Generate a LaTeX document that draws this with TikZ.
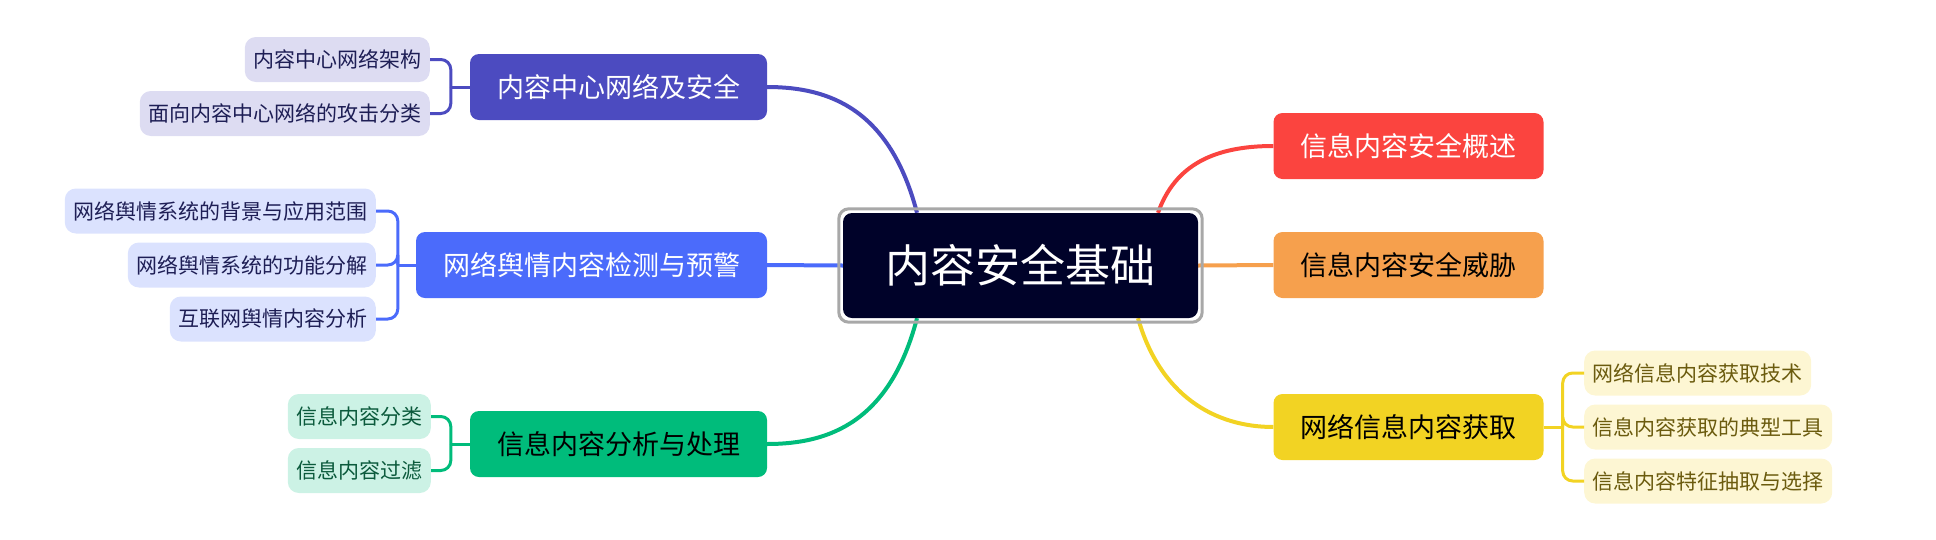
\documentclass[tikz,border=0pt]{standalone}
\usepackage{fontspec}
\newfontfamily\cjkfont{Noto Sans CJK SC}
\usetikzlibrary{backgrounds}

\definecolor{rootfill}{HTML}{000229}
\definecolor{rootline}{HTML}{A8A8A8}
\definecolor{purplemain}{HTML}{4C4BC0}
\definecolor{purplesub}{HTML}{DDDCF2}
\definecolor{bluemain}{HTML}{4B6BFB}
\definecolor{bluesub}{HTML}{DBE2FE}
\definecolor{greenmain}{HTML}{00BC7B}
\definecolor{greensub}{HTML}{CCF2E5}
\definecolor{greentext}{HTML}{0B5A3C}
\definecolor{redmain}{HTML}{FB443F}
\definecolor{orangemain}{HTML}{F6A04D}
\definecolor{yellowmain}{HTML}{F2D323}
\definecolor{yellowsub}{HTML}{FDF6D3}
\definecolor{yellowtext}{HTML}{6B5B0E}
\definecolor{navytext}{HTML}{1E1E55}

\tikzset{
  rootbox/.style={fill=rootfill, text=white, rounded corners=9pt, minimum height=105pt,
    inner xsep=42.5pt, font=\cjkfont\fontsize{45pt}{54pt}\selectfont},
  topic/.style={rounded corners=9pt, minimum height=66pt, inner xsep=27pt,
    font=\cjkfont\fontsize{27pt}{32pt}\selectfont},
  sub/.style={rounded corners=11pt, minimum height=45pt, inner xsep=8.5pt,
    font=\cjkfont\fontsize{21pt}{25pt}\selectfont},
  link/.style={line width=4pt},
  bracket/.style={line width=3pt, rounded corners=10pt},
}

\begin{document}
\begin{tikzpicture}[x=1pt,y=-1pt]
\useasboundingbox (0,0) rectangle (1936,539);

% centre
\node[rootbox] (root) at (1020.5,265.5) {内容安全基础};
\draw[rootline, line width=3pt, rounded corners=10pt]
  ([shift={(-4pt,4pt)}]root.north west) rectangle ([shift={(4pt,-4pt)}]root.south east);

% main topics
\node[topic, fill=purplemain, text=white] (ccn) at (618.5,87) {内容中心网络及安全};
\node[topic, fill=bluemain, text=white] (opinion) at (591.5,265) {网络舆情内容检测与预警};
\node[topic, fill=greenmain] (analysis) at (618.5,444) {信息内容分析与处理};
\node[topic, fill=redmain, text=white] (overview) at (1408.5,146) {信息内容安全概述};
\node[topic, fill=orangemain] (threat) at (1408.5,265) {信息内容安全威胁};
\node[topic, fill=yellowmain] (acquire) at (1408.5,427) {网络信息内容获取};

% sub topics
\node[sub, fill=purplesub, text=navytext, anchor=east] (ccn1) at (430,59.5) {内容中心网络架构};
\node[sub, fill=purplesub, text=navytext, anchor=east] (ccn2) at (430,113.5) {面向内容中心网络的攻击分类};

\node[sub, fill=bluesub, text=navytext, anchor=east] (opinion1) at (376,211) {网络舆情系统的背景与应用范围};
\node[sub, fill=bluesub, text=navytext, anchor=east] (opinion2) at (376,265) {网络舆情系统的功能分解};
\node[sub, fill=bluesub, text=navytext, anchor=east] (opinion3) at (376,319) {互联网舆情内容分析};

\node[sub, fill=greensub, text=greentext, anchor=east] (analysis1) at (431,416.5) {信息内容分类};
\node[sub, fill=greensub, text=greentext, anchor=east] (analysis2) at (431,470.5) {信息内容过滤};

\node[sub, fill=yellowsub, text=yellowtext, anchor=west] (acquire1) at (1584,373) {网络信息内容获取技术};
\node[sub, fill=yellowsub, text=yellowtext, anchor=west] (acquire2) at (1584,427) {信息内容获取的典型工具};
\node[sub, fill=yellowsub, text=yellowtext, anchor=west] (acquire3) at (1584,481) {信息内容特征抽取与选择};

% connectors
\begin{scope}[on background layer]
\draw[link, purplemain] ([xshift=-103.5pt]root.north) .. controls +(-27,-103) and +(63,0) .. (ccn.east);
\draw[link, bluemain] (root.west) -- (opinion.east);
\draw[link, greenmain] ([xshift=-103.5pt]root.south) .. controls +(-27,103) and +(63,0) .. (analysis.east);
\draw[link, redmain] ([xshift=137.5pt]root.north) .. controls +(17,-48) and +(-59,0) .. (overview.west);
\draw[link, orangemain] (root.east) -- (threat.west);
\draw[link, yellowmain] ([xshift=117.5pt]root.south) .. controls +(22,77) and +(-59,0) .. (acquire.west);
\end{scope}

% brackets
\coordinate (ccnj) at ([xshift=-19pt]ccn.west);
\coordinate (opinionj) at ([xshift=-18pt]opinion.west);
\coordinate (analysisj) at ([xshift=-19pt]analysis.west);
\coordinate (acquirej) at ([xshift=19pt]acquire.east);

\draw[bracket, purplemain] (ccn.west) -- (ccnj);
\foreach \i in {1,2} \draw[bracket, purplemain] (ccnj) |- (ccn\i.east);
\draw[bracket, bluemain] (opinion.west) -- (opinionj);
\foreach \i in {1,2,3} \draw[bracket, bluemain] (opinionj) |- (opinion\i.east);
\draw[bracket, greenmain] (analysis.west) -- (analysisj);
\foreach \i in {1,2} \draw[bracket, greenmain] (analysisj) |- (analysis\i.east);
\draw[bracket, yellowmain] (acquire.east) -- (acquirej);
\foreach \i in {1,2,3} \draw[bracket, yellowmain] (acquirej) |- (acquire\i.west);
\end{tikzpicture}
\end{document}
